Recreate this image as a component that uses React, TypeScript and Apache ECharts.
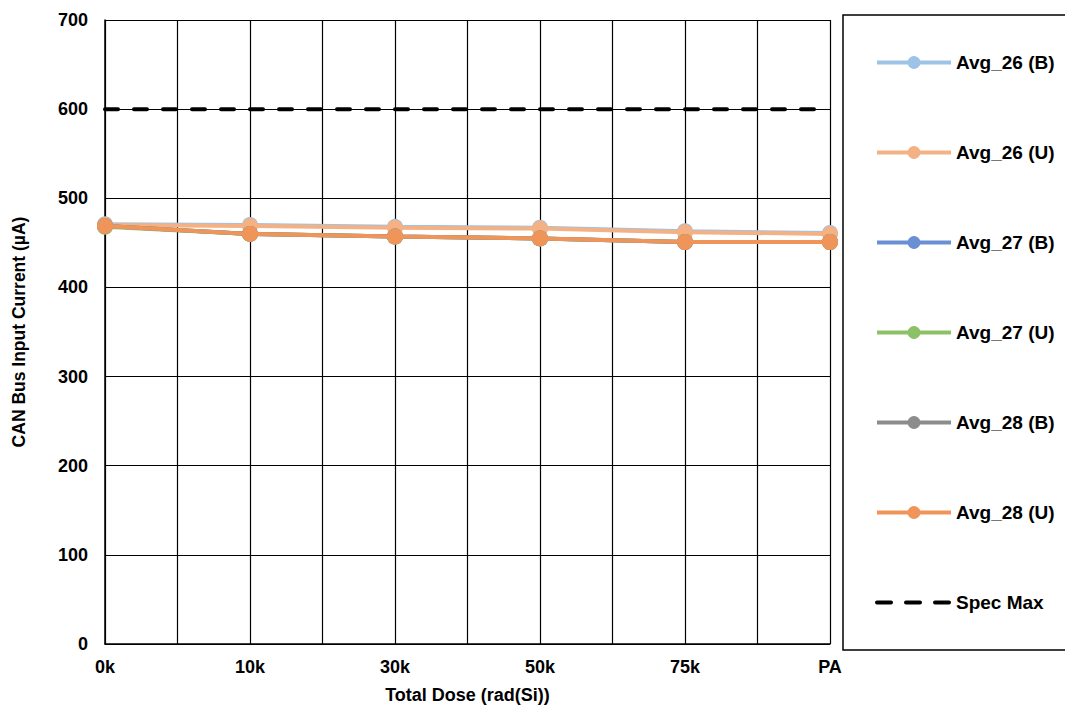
import React, { useEffect, useRef } from "react";
import * as echarts from "echarts";

const categories = ["0k", "10k", "30k", "50k", "75k", "PA"];
const avg26B = [471, 470, 468, 467, 463, 461];
const avg26U = [470, 469, 467, 466, 462, 460];
const avg27B = [469, 460, 457, 455, 451, 451];
const avg27U = [468, 460, 457, 455, 451, 451];
const avg28B = [469, 460, 457, 455, 451, 451];
const avg28U = [469, 460, 457, 455, 451, 451];
const specMax = [600, 600, 600, 600, 600, 600];
const seriesNames = ["Avg_26 (B)", "Avg_26 (U)", "Avg_27 (B)", "Avg_27 (U)", "Avg_28 (B)", "Avg_28 (U)", "Spec Max"];
const colors = ["#9DC3E6", "#F4B183", "#6A8FD4", "#8CC168", "#8C8C8C", "#F0955A", "#000000"];

export default function App() {
  const ref = useRef<HTMLDivElement>(null);
  useEffect(() => {
    if (!ref.current) return;
    const chart = echarts.init(ref.current, null, { renderer: "svg" });
    const values = [avg26B, avg26U, avg27B, avg27U, avg28B, avg28U];
    const font = "Arial, 'Liberation Sans', sans-serif";
    const series: any[] = values.map((v, i) => ({
      name: seriesNames[i],
      type: "line",
      data: v.map((y, x) => [x, y]),
      symbol: "circle",
      symbolSize: 16,
      lineStyle: { width: 4, color: colors[i] },
      itemStyle: { color: colors[i] },
      z: 3 + i,
    }));
    series.push({
      name: seriesNames[6],
      type: "line",
      data: specMax.map((y, x) => [x, y]),
      symbol: "none",
      lineStyle: { width: 4, color: "#000", type: [13, 16], cap: "round" },
      itemStyle: { color: "#000" },
      z: 2,
    });
    const legendData = seriesNames.map((n, i) =>
      i < 6
        ? { name: n, lineStyle: { width: 4, color: colors[i] }, itemStyle: { color: colors[i] } }
        : {
            name: n,
            lineStyle: { width: 4, color: "#000", type: [14, 15], cap: "round" },
            itemStyle: { opacity: 0 },
          }
    );
    chart.setOption({
      animation: false,
      grid: { left: 105, top: 20, right: 235, bottom: 62, containLabel: false, outerBoundsMode: "none" },
      xAxis: {
        type: "value",
        min: 0,
        max: 5,
        interval: 0.5,
        name: "Total Dose (rad(Si))",
        nameLocation: "middle",
        nameGap: 42,
        nameTextStyle: { fontFamily: font, fontWeight: "bold", fontSize: 18, color: "#000" },
        axisLine: { show: true, lineStyle: { color: "#000", width: 1.5 } },
        axisTick: { show: false },
        axisLabel: {
          fontFamily: font,
          fontWeight: "bold",
          fontSize: 18,
          color: "#000",
          margin: 14,
          formatter: (v: number) => (Number.isInteger(v) ? categories[v] : ""),
        },
        splitLine: { show: true, lineStyle: { color: "#000", width: 1.2 } },
      },
      yAxis: {
        type: "value",
        min: 0,
        max: 700,
        interval: 100,
        name: "CAN Bus Input Current (µA)",
        nameLocation: "middle",
        nameGap: 77,
        nameTextStyle: { fontFamily: font, fontWeight: "bold", fontSize: 17.5, color: "#000" },
        axisLine: { show: true, lineStyle: { color: "#000", width: 1.5 } },
        axisTick: { show: false },
        axisLabel: { fontFamily: font, fontWeight: "bold", fontSize: 18, color: "#000", margin: 17 },
        splitLine: { show: true, lineStyle: { color: "#000", width: 1.2 } },
      },
      legend: {
        orient: "vertical",
        left: 870,
        top: 48,
        itemWidth: 74,
        itemHeight: 16,
        itemGap: 71,
        data: legendData,
        textStyle: { fontFamily: font, fontWeight: "bold", fontSize: 19, color: "#000" },
      },
      graphic: [
        {
          type: "rect",
          shape: { x: 843, y: 15, width: 240, height: 635 },
          style: { fill: "none", stroke: "#000", lineWidth: 1.5 },
          silent: true,
        },
      ],
      series,
    });
    return () => chart.dispose();
  }, []);
  return <div ref={ref} style={{ width: 1065, height: 706, position: "absolute", left: 0, top: 0, background: "#fff" }} />;
}
